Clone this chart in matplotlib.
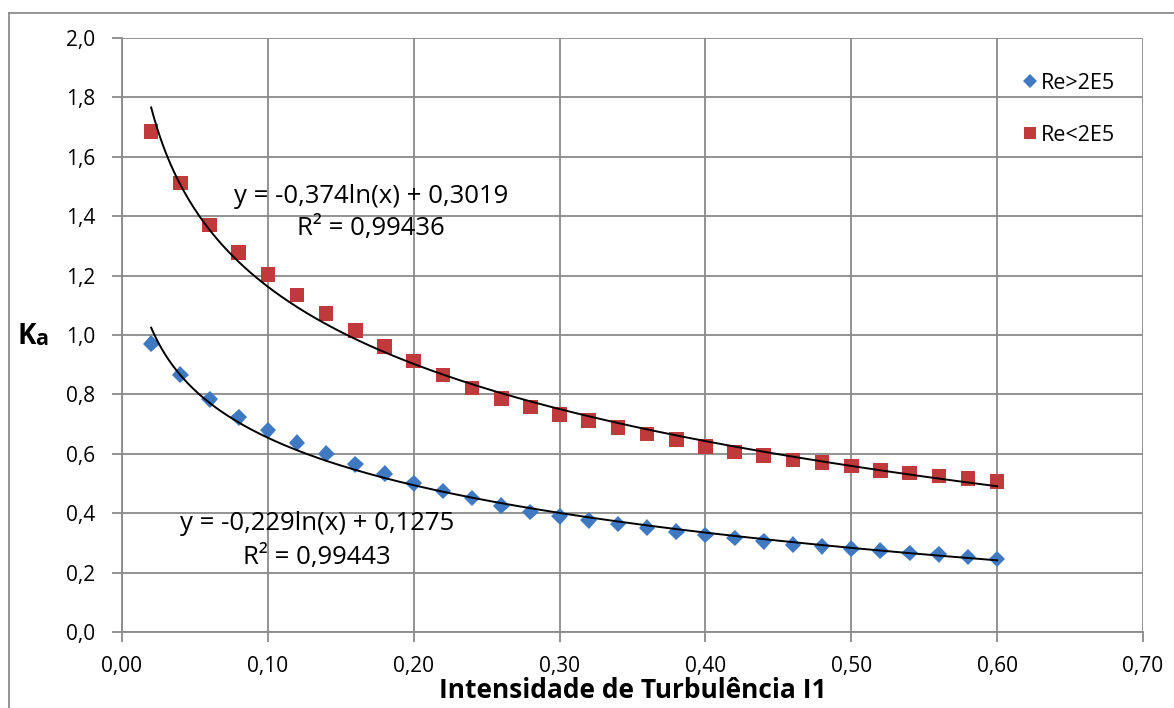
import numpy as np
import matplotlib
matplotlib.use("Agg")
import matplotlib.pyplot as plt
import matplotlib.patheffects as pe
from matplotlib.lines import Line2D
from matplotlib.ticker import FuncFormatter, MultipleLocator

# ---- data ----
intensity = [0.02, 0.04, 0.06, 0.08, 0.10, 0.12, 0.14, 0.16, 0.18, 0.20,
             0.22, 0.24, 0.26, 0.28, 0.30, 0.32, 0.34, 0.36, 0.38, 0.40,
             0.42, 0.44, 0.46, 0.48, 0.50, 0.52, 0.54, 0.56, 0.58, 0.60]
ka_high_re = [0.971, 0.867, 0.783, 0.723, 0.679, 0.638, 0.600, 0.564, 0.533, 0.501,
              0.475, 0.451, 0.425, 0.404, 0.390, 0.376, 0.364, 0.351, 0.338, 0.327,
              0.317, 0.305, 0.294, 0.289, 0.280, 0.274, 0.266, 0.261, 0.253, 0.246]
ka_low_re = [1.685, 1.512, 1.371, 1.278, 1.203, 1.135, 1.073, 1.016, 0.961, 0.912,
             0.866, 0.822, 0.786, 0.758, 0.732, 0.713, 0.688, 0.666, 0.648, 0.625,
             0.606, 0.595, 0.579, 0.571, 0.559, 0.544, 0.535, 0.525, 0.516, 0.507]
series_labels = ["Re>2E5", "Re<2E5"]
eq_high = ["y = -0,229ln(x) + 0,1275", "R\u00b2 = 0,99443"]
eq_low = ["y = -0,374ln(x) + 0,3019", "R\u00b2 = 0,99436"]
x_title = "Intensidade de Turbul\u00eancia I1"

FONT = "Open Sans"
plt.rcParams["font.family"] = [FONT, "DejaVu Sans"]

W, H = 1174, 708
fig = plt.figure(figsize=(W / 100, H / 100), dpi=100)
L, R, T, B = 122, 1143, 38, 632
ax = fig.add_axes([L / W, 1 - B / H, (R - L) / W, (B - T) / H])

grid_c = "#8a8a8a"
blue = "#3f79c1"
red = "#c0393b"

x = np.array(intensity)
shadow = [pe.SimpleLineShadow(offset=(1.5, -1.5), shadow_color="#555555", alpha=0.35), pe.Normal()]

# trendlines (log fit to the data)
xs = np.linspace(x.min(), x.max(), 300)
for ys in (ka_high_re, ka_low_re):
    a, b = np.polyfit(np.log(x), np.array(ys), 1)
    ax.plot(xs, a * np.log(xs) + b, color="black", lw=1.4, zorder=4)

ax.plot(x, ka_high_re, linestyle="none", marker="D", ms=8.5, color=blue,
        markeredgewidth=0, zorder=3, path_effects=shadow)
ax.plot(x, ka_low_re, linestyle="none", marker="s", ms=10.5, color=red,
        markeredgewidth=0, zorder=3, path_effects=shadow)

ax.set_xlim(0, 0.70)
ax.set_ylim(0, 2.0)
ax.xaxis.set_major_locator(MultipleLocator(0.10))
ax.yaxis.set_major_locator(MultipleLocator(0.2))
ax.xaxis.set_major_formatter(FuncFormatter(lambda v, p: f"{v:.2f}".replace(".", ",")))
ax.yaxis.set_major_formatter(FuncFormatter(lambda v, p: f"{v:.1f}".replace(".", ",")))
ax.grid(True, color=grid_c, lw=1.3)
ax.set_axisbelow(True)
for s in ["top", "right"]:
    ax.spines[s].set_visible(False)
for s in ["left", "bottom"]:
    ax.spines[s].set_color(grid_c)
    ax.spines[s].set_linewidth(1.3)
ax.tick_params(direction="out", length=7, width=1.3, color=grid_c,
               labelsize=15, pad=7, labelcolor="black")
ax.tick_params(axis="y", pad=12)
ax.tick_params(axis="x", pad=10)

ax.set_xlabel(x_title, fontsize=19, fontweight="bold", labelpad=0)

fig.text(17 / W, 1 - 336 / H, "K", fontsize=20, fontweight="bold", va="center", ha="left")
fig.text(35 / W, 1 - 339 / H, "a", fontsize=15.5, fontweight="bold", va="center", ha="left")

ax.text(0.1707, 1.468, eq_low[0], fontsize=18.5, ha="center", va="center", zorder=5)
ax.text(0.1707, 1.360, eq_low[1], fontsize=18.5, ha="center", va="center", zorder=5)
ax.text(0.1335, 0.364, eq_high[0], fontsize=18.5, ha="center", va="center", zorder=5)
ax.text(0.1335, 0.2525, eq_high[1], fontsize=18.5, ha="center", va="center", zorder=5)

handles = [Line2D([], [], linestyle="none", marker="D", ms=7, color=blue, markeredgewidth=0),
           Line2D([], [], linestyle="none", marker="s", ms=8.5, color=red, markeredgewidth=0)]
fig.legend(handles, series_labels, loc="upper left", bbox_to_anchor=(1008 / W, 1 - 62 / H),
           frameon=False, fontsize=15.5, labelspacing=1.45, handletextpad=0.05,
           handlelength=1.0, borderpad=0)

# outer chart border (left and top)
fig.add_artist(Line2D([9 / W, 9 / W], [0, 1 - 13 / H], transform=fig.transFigure, color="#8c8c8c", lw=1.3))
fig.add_artist(Line2D([9 / W, 1], [1 - 13 / H, 1 - 13 / H], transform=fig.transFigure, color="#8c8c8c", lw=1.3))

fig.savefig("out.png", dpi=100)
